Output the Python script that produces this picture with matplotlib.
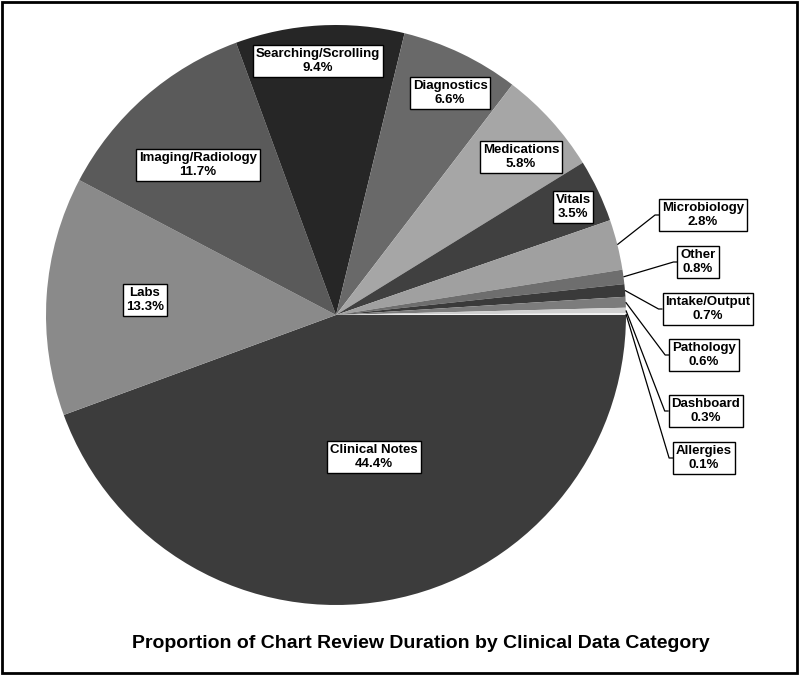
import numpy as np
import matplotlib
matplotlib.use('Agg')
import matplotlib.pyplot as plt
from matplotlib.patches import Rectangle
from matplotlib import font_manager

categories = ['Clinical Notes', 'Labs', 'Imaging/Radiology', 'Searching/Scrolling',
              'Diagnostics', 'Medications', 'Vitals', 'Microbiology', 'Other',
              'Intake/Output', 'Pathology', 'Dashboard', 'Allergies']
shares = [44.4, 13.3, 11.7, 9.4, 6.6, 5.8, 3.5, 2.8, 0.8, 0.7, 0.6, 0.3, 0.1]
greys = ['#3c3c3c', '#8a8a8a', '#5a5a5a', '#262626', '#696969', '#a6a6a6', '#404040',
         '#a0a0a0', '#6e6e6e', '#3a3a3a', '#7c7c7c', '#d0d0d0', '#f2f2f2']
title = 'Proportion of Chart Review Duration by Clinical Data Category'

# label positions (pixels from top-left), outside ones get leader lines
label_pos = {
    'Clinical Notes': (374, 457), 'Labs': (145, 300), 'Imaging/Radiology': (198, 165),
    'Searching/Scrolling': (318, 61), 'Diagnostics': (450, 93), 'Medications': (521, 157),
    'Vitals': (573, 207), 'Microbiology': (703, 215), 'Other': (698, 262),
    'Intake/Output': (708, 309), 'Pathology': (704, 355), 'Dashboard': (706, 411),
    'Allergies': (704, 458),
}
outside = ['Microbiology', 'Other', 'Intake/Output', 'Pathology', 'Dashboard', 'Allergies']

names = {f.name for f in font_manager.fontManager.ttflist}
title_font = 'Liberation Sans Narrow' if 'Liberation Sans Narrow' in names else 'Liberation Sans'

W, H = 800, 675
cx, cy, R = 336, 315, 290

fig = plt.figure(figsize=(8, 6.75), dpi=100)
ax = fig.add_axes([0, 0, 1, 1])
ax.pie(shares, colors=greys, startangle=0, counterclock=False,
       center=(cx, H - cy), radius=R, wedgeprops=dict(linewidth=0))
ax.set_xlim(0, W)
ax.set_ylim(0, H)
ax.set_aspect('equal')
ax.axis('off')

texts = {}
for name, val in zip(categories, shares):
    x, y = label_pos[name]
    texts[name] = ax.text(x, H - y, f'{name}\n{val}%', ha='center', va='center',
                          fontsize=9.5, fontweight='bold', family='Liberation Sans',
                          linespacing=1.3,
                          bbox=dict(boxstyle='square,pad=0.22', fc='white', ec='black', lw=1))

fig.canvas.draw()
rend = fig.canvas.get_renderer()
inv = ax.transData.inverted()
cum = np.cumsum([0] + shares[:-1])
for name, val, c0 in zip(categories, shares, cum):
    if name not in outside:
        continue
    ang = np.deg2rad(-(c0 + val / 2) * 3.6)
    x0, y0 = cx + R * np.cos(ang), H - cy + R * np.sin(ang)
    bb = texts[name].get_bbox_patch().get_window_extent(rend)
    (xl, _), = inv.transform([(bb.x0, 0)])
    yl = H - label_pos[name][1]
    ax.plot([x0, xl - 4, xl], [y0, yl, yl], color='black', lw=0.9, solid_capstyle='butt')

fig.text(421 / W, 1 - 643 / H, title, ha='center', va='center', fontsize=14,
         fontweight='bold', family=title_font)
fig.patches.append(Rectangle((0.002, 0.003), 0.994, 0.994, transform=fig.transFigure,
                             fill=False, ec='black', lw=2))

fig.savefig('out.png', dpi=100)
